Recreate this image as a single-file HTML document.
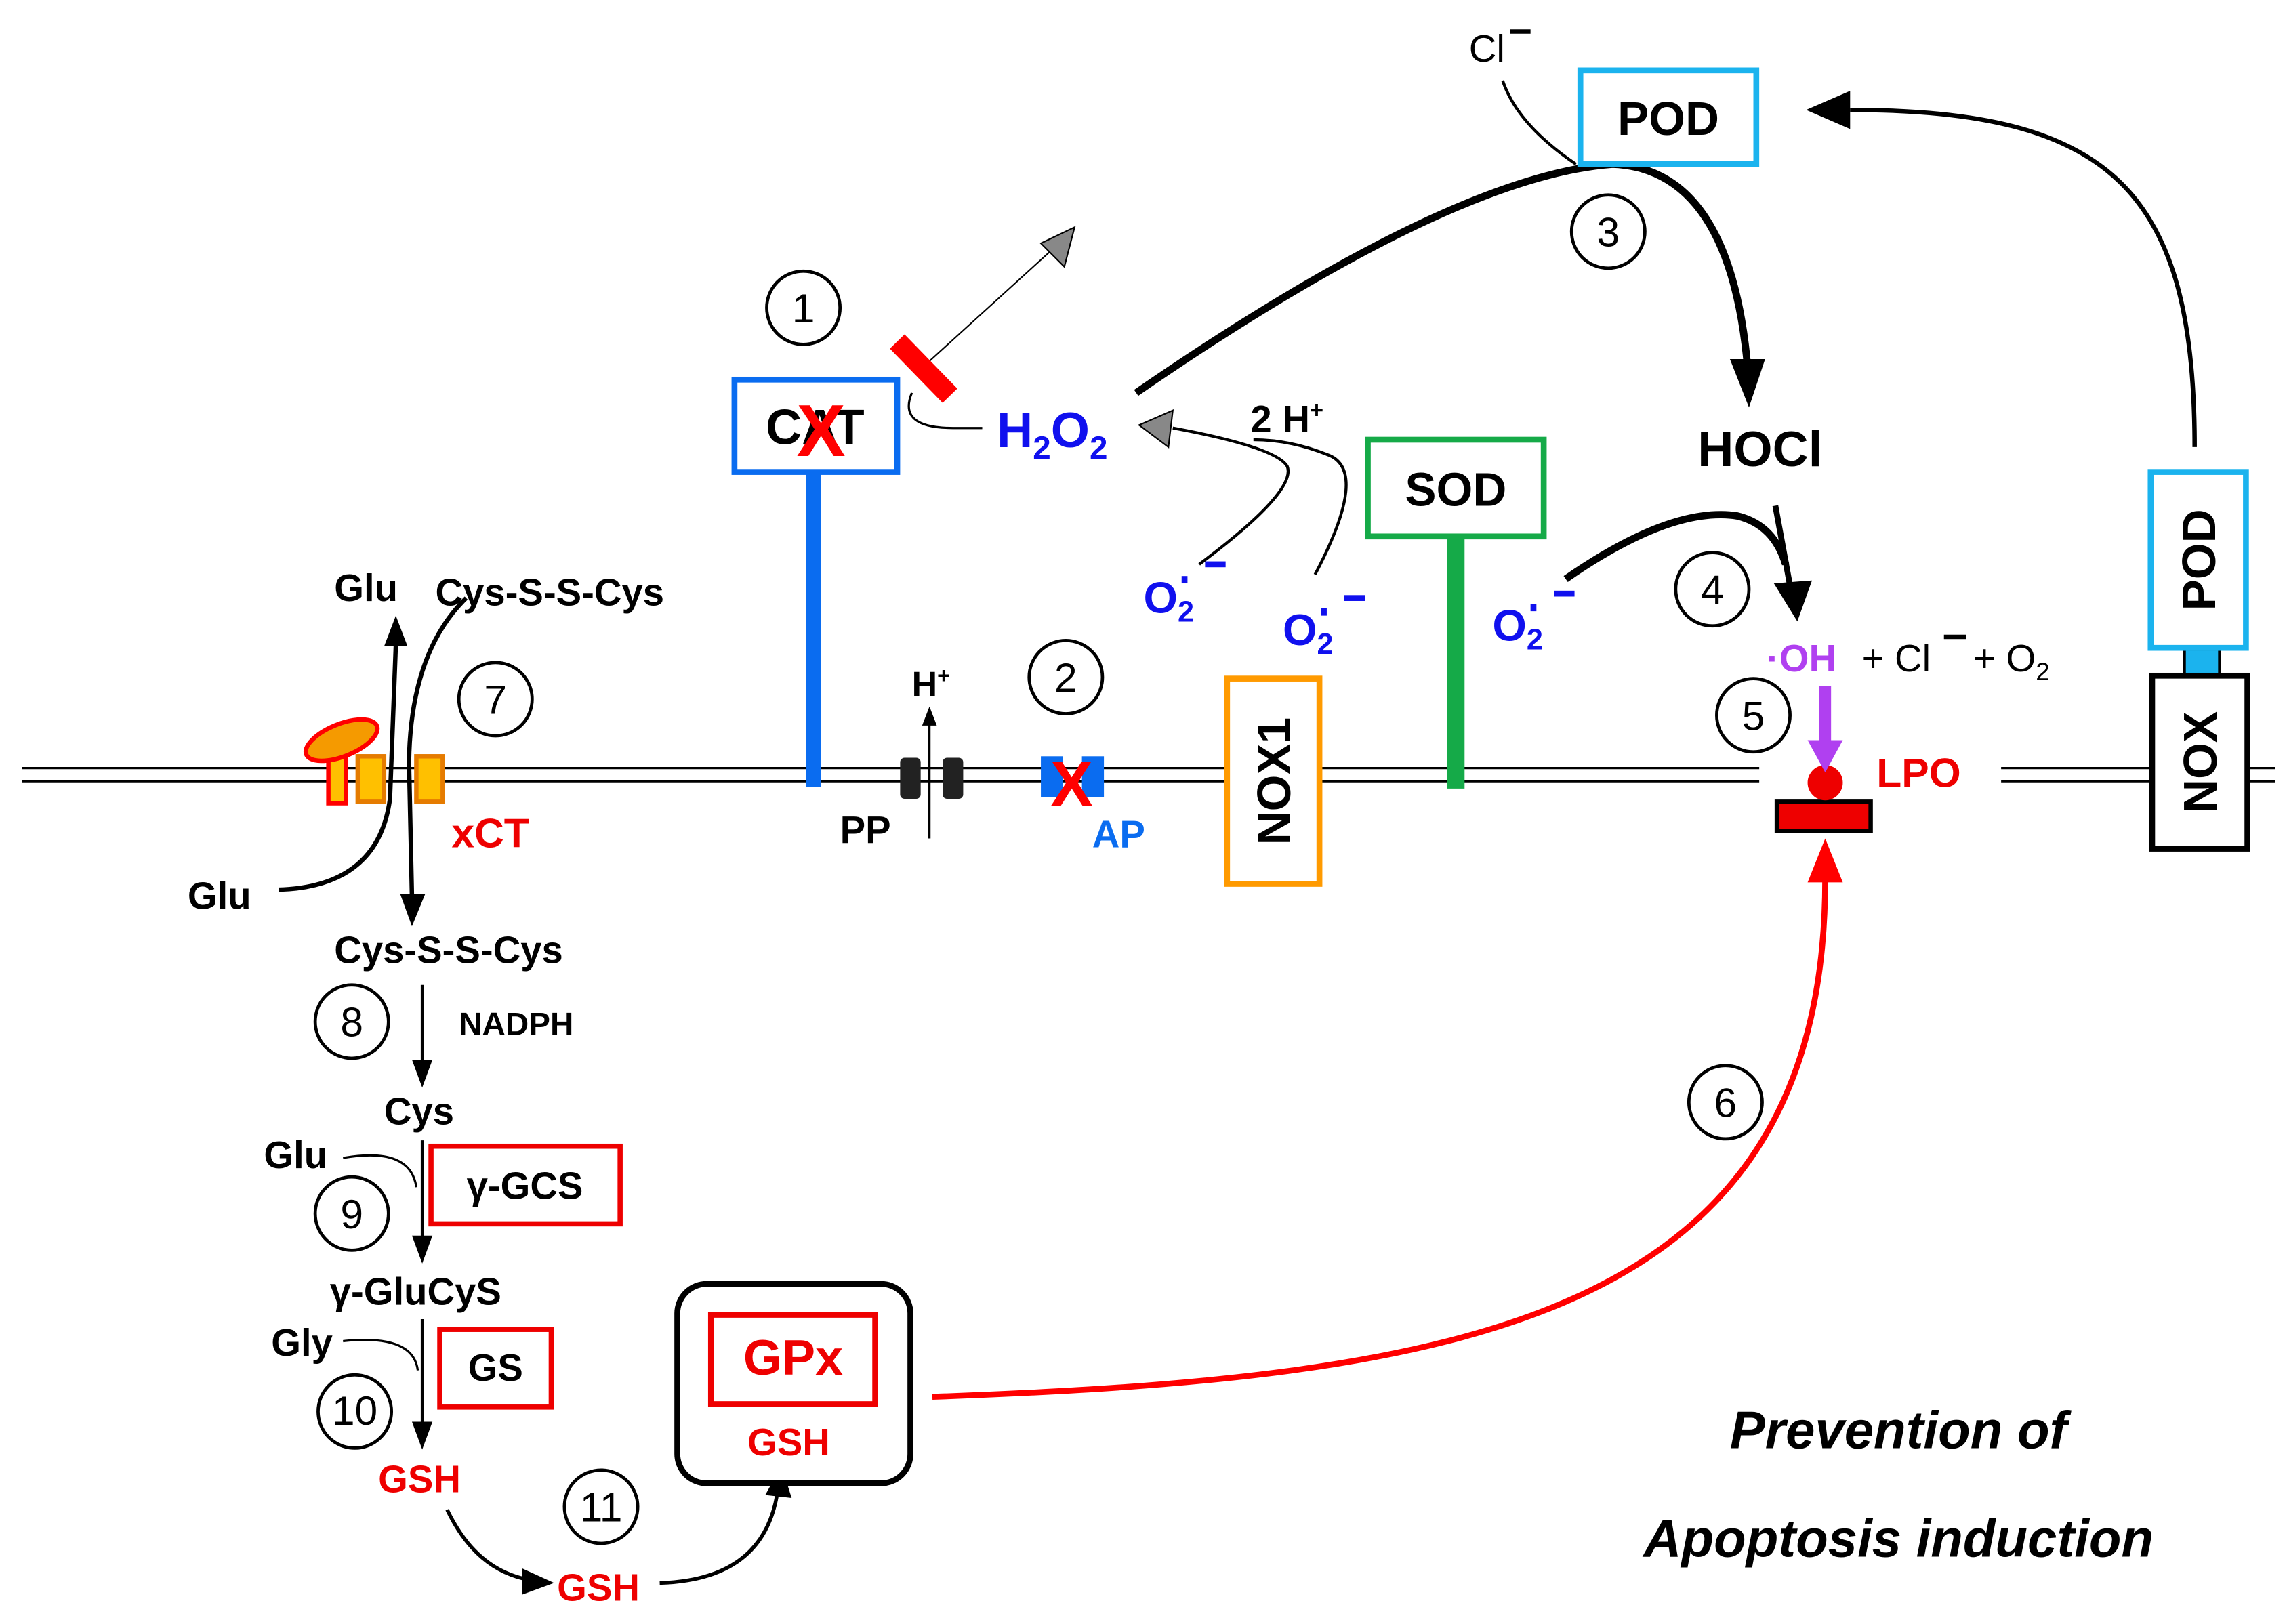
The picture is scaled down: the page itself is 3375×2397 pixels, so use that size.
<!DOCTYPE html>
<html><head><meta charset="utf-8"><style>
html,body{margin:0;padding:0;background:#fff;}
svg{display:block;}
text{font-family:"Liberation Sans",sans-serif;font-weight:bold;}
</style></head><body>
<svg width="3375" height="2397" viewBox="0 0 1560 1108" preserveAspectRatio="none" xmlns="http://www.w3.org/2000/svg">
<!-- membrane -->
<g stroke="#000" stroke-width="1.5">
<line x1="15" y1="524" x2="1200" y2="524"/><line x1="15" y1="533" x2="1200" y2="533"/>
<line x1="1365" y1="524" x2="1470" y2="524"/><line x1="1365" y1="533" x2="1470" y2="533"/>
<line x1="1534" y1="524" x2="1552" y2="524"/><line x1="1534" y1="533" x2="1552" y2="533"/>
</g>
<!-- circled numbers -->
<g fill="none" stroke="#000" stroke-width="2.2">
<circle cx="548" cy="210" r="25"/><circle cx="727" cy="462" r="25"/><circle cx="1097" cy="158" r="25"/>
<circle cx="1168" cy="402" r="25"/><circle cx="1196" cy="488" r="25"/><circle cx="1177" cy="752" r="25"/>
<circle cx="338" cy="477" r="25"/><circle cx="240" cy="697" r="25"/><circle cx="240" cy="828" r="25"/>
<circle cx="242" cy="963" r="25"/><circle cx="410" cy="1028" r="25"/>
</g>
<g font-size="28" text-anchor="middle">
<text x="548" y="220" style="font-weight:normal">1</text><text x="727" y="472" style="font-weight:normal">2</text>
<text x="1097" y="168" style="font-weight:normal">3</text><text x="1168" y="412" style="font-weight:normal">4</text>
<text x="1196" y="498" style="font-weight:normal">5</text><text x="1177" y="762" style="font-weight:normal">6</text>
<text x="338" y="487" style="font-weight:normal">7</text><text x="240" y="707" style="font-weight:normal">8</text>
<text x="240" y="838" style="font-weight:normal">9</text><text x="242" y="972" style="font-weight:normal">10</text>
<text x="410" y="1038" style="font-weight:normal">11</text>
</g>
<!-- CAT -->
<rect x="550" y="322" width="10" height="215" fill="#0a6cf0"/>
<rect x="501" y="259" width="111" height="63" fill="#fff" stroke="#0a6cf0" stroke-width="4"/>
<text x="556" y="303" font-size="34" text-anchor="middle">CAT</text>
<text x="560" y="311" font-size="50" text-anchor="middle" fill="#f00">X</text>
<line x1="630" y1="250" x2="718" y2="170" stroke="#000" stroke-width="1"/>
<path d="M733,155 L726,182 L710,166 z" fill="#888" stroke="#000" stroke-width="1"/>
<line x1="612" y1="233" x2="648" y2="270" stroke="#f00" stroke-width="14"/>
<path d="M622,268 Q612,292 650,292 L670,292" fill="none" stroke="#000" stroke-width="1.5"/>
<text x="680" y="305" font-size="34" fill="#1010ee">H<tspan font-size="22" dy="8">2</tspan><tspan dy="-8">O</tspan><tspan font-size="22" dy="8">2</tspan></text>
<!-- thick arc to HOCl -->
<path d="M775,268 Q990,120 1100,112 Q1180,115 1192,250" fill="none" stroke="#000" stroke-width="5"/>
<path d="M1180,245 L1204,245 L1193,278 z" fill="#000"/>
<text x="1002" y="42" font-size="26" style="font-weight:normal">Cl</text>
<rect x="1030" y="20" width="14" height="3" fill="#000"/>
<path d="M1025,55 Q1035,85 1075,112" fill="none" stroke="#000" stroke-width="2"/>
<rect x="1078" y="48" width="120" height="64" fill="#fff" stroke="#1bb3ee" stroke-width="4"/>
<text x="1138" y="92" font-size="32" text-anchor="middle">POD</text>
<!-- NOX -> POD arrow -->
<path d="M1497,305 C1497,130 1440,75 1262,75" fill="none" stroke="#000" stroke-width="3"/>
<path d="M1232,75 L1262,62 L1262,88 z" fill="#000"/>
<text x="1158" y="318" font-size="34">HOCl</text>
<line x1="1211" y1="345" x2="1222" y2="405" stroke="#000" stroke-width="4"/>
<path d="M1210,398 L1236,396 L1226,424 z" fill="#000"/>
<path d="M1068,395 Q1140,345 1185,352 Q1210,358 1218,385" fill="none" stroke="#000" stroke-width="5"/>
<!-- SOD -->
<rect x="987" y="366" width="12" height="172" fill="#15aa48"/>
<rect x="933" y="300" width="120" height="66" fill="#fff" stroke="#15aa48" stroke-width="4"/>
<text x="993" y="345" font-size="32" text-anchor="middle">SOD</text>
<text x="853" y="295" font-size="26">2 H<tspan font-size="16" dy="-10">+</tspan></text>
<path d="M818,385 Q885,335 878,318 Q870,305 800,292" fill="none" stroke="#000" stroke-width="2"/>
<path d="M897,392 Q935,320 905,310 Q880,300 855,300" fill="none" stroke="#000" stroke-width="2"/>
<path d="M777,290 L800,280 L797,305 z" fill="#888" stroke="#000" stroke-width="1"/>
<g fill="#1010ee">
<text x="780" y="418" font-size="30">O<tspan font-size="20" dy="6">2</tspan></text><rect x="806" y="393" width="4" height="5"/><rect x="822" y="383" width="14" height="4"/>
<text x="875" y="440" font-size="30">O<tspan font-size="20" dy="6">2</tspan></text><rect x="901" y="415" width="4" height="5"/><rect x="917" y="406" width="14" height="4"/>
<text x="1018" y="437" font-size="30">O<tspan font-size="20" dy="6">2</tspan></text><rect x="1044" y="412" width="4" height="5"/><rect x="1060" y="403" width="14" height="4"/>
</g>
<!-- NOX1 -->
<rect x="837" y="463" width="63" height="140" fill="#fff" stroke="#ff9a00" stroke-width="4"/>
<text transform="translate(880,533) rotate(-90)" font-size="32" text-anchor="middle">NOX1</text>
<!-- PP -->
<rect x="614" y="517" width="14" height="28" rx="3" fill="#222"/><rect x="643" y="517" width="14" height="28" rx="3" fill="#222"/>
<line x1="634" y1="572" x2="634" y2="492" stroke="#000" stroke-width="1.5"/>
<path d="M634,482 L629,495 L639,495 z" fill="#000"/>
<text x="622" y="475" font-size="24">H<tspan font-size="15" dy="-9">+</tspan></text>
<text x="573" y="575" font-size="26">PP</text>
<!-- AP -->
<rect x="710" y="516" width="15" height="28" fill="#0a6cf0"/><rect x="738" y="516" width="15" height="28" fill="#0a6cf0"/>
<text x="731" y="550" font-size="44" text-anchor="middle" fill="#f00">X</text>
<text x="745" y="578" font-size="26" fill="#0a6cf0">AP</text>
<!-- xCT -->
<rect x="224" y="514" width="12" height="34" fill="#ffc000" stroke="#f00" stroke-width="3"/>
<ellipse cx="233" cy="505" rx="26" ry="11" transform="rotate(-22 233 505)" fill="#f59a00" stroke="#f00" stroke-width="3"/>
<rect x="244" y="516" width="18" height="31" fill="#ffc000" stroke="#e57b00" stroke-width="3"/>
<rect x="284" y="516" width="18" height="31" fill="#ffc000" stroke="#e57b00" stroke-width="3"/>
<text x="308" y="578" font-size="28" fill="#e00">xCT</text>
<path d="M190,607 Q258,605 266,545 L270,440" fill="none" stroke="#000" stroke-width="3"/>
<path d="M270,420 L262,441 L278,441 z" fill="#000"/>
<path d="M318,408 Q280,445 279,520 L281,612" fill="none" stroke="#000" stroke-width="3"/>
<path d="M281,632 L273,610 L290,610 z" fill="#000"/>
<text x="228" y="410" font-size="26">Glu</text>
<text x="297" y="413" font-size="26">Cys-S-S-Cys</text>
<text x="128" y="620" font-size="26">Glu</text>
<text x="228" y="657" font-size="26">Cys-S-S-Cys</text>
<line x1="288" y1="672" x2="288" y2="725" stroke="#000" stroke-width="2"/>
<path d="M288,742 L281,723 L295,723 z" fill="#000"/>
<text x="313" y="706" font-size="22">NADPH</text>
<text x="262" y="767" font-size="26">Cys</text>
<text x="180" y="797" font-size="26">Glu</text>
<path d="M234,790 Q280,782 284,810" fill="none" stroke="#000" stroke-width="1.5"/>
<line x1="288" y1="778" x2="288" y2="845" stroke="#000" stroke-width="2"/>
<path d="M288,862 L281,843 L295,843 z" fill="#000"/>
<rect x="294" y="782" width="129" height="53" fill="#fff" stroke="#e00" stroke-width="3.5"/>
<text x="358" y="818" font-size="26" text-anchor="middle">γ-GCS</text>
<text x="225" y="890" font-size="26">γ-GluCyS</text>
<text x="185" y="925" font-size="26">Gly</text>
<path d="M234,915 Q282,910 285,935" fill="none" stroke="#000" stroke-width="1.5"/>
<line x1="288" y1="900" x2="288" y2="972" stroke="#000" stroke-width="2"/>
<path d="M288,989 L281,970 L295,970 z" fill="#000"/>
<rect x="300" y="907" width="76" height="53" fill="#fff" stroke="#e00" stroke-width="3.5"/>
<text x="338" y="942" font-size="26" text-anchor="middle">GS</text>
<text x="258" y="1018" font-size="26" fill="#e00">GSH</text>
<path d="M305,1030 Q325,1072 362,1078" fill="none" stroke="#000" stroke-width="2.5"/>
<path d="M378,1080 L356,1070 L356,1088 z" fill="#000"/>
<text x="380" y="1092" font-size="26" fill="#e00">GSH</text>
<path d="M450,1080 Q520,1078 530,1020" fill="none" stroke="#000" stroke-width="2.5"/>
<path d="M533,1000 L522,1020 L540,1022 z" fill="#000"/>
<!-- GPx -->
<rect x="462" y="876" width="159" height="136" rx="20" fill="#fff" stroke="#000" stroke-width="4"/>
<rect x="485" y="897" width="112" height="61" fill="#fff" stroke="#e00" stroke-width="4"/>
<text x="541" y="938" font-size="34" text-anchor="middle" fill="#e00">GPx</text>
<text x="538" y="993" font-size="26" text-anchor="middle" fill="#e00">GSH</text>
<!-- red curve -->
<path d="M636,953 C1000,940 1245,900 1245,600" fill="none" stroke="#f00" stroke-width="4"/>
<path d="M1245,572 L1233,602 L1257,602 z" fill="#f00"/>
<!-- LPO -->
<rect x="1212" y="547" width="64" height="20" fill="#e00" stroke="#000" stroke-width="3"/>
<circle cx="1245" cy="534" r="12" fill="#e00"/>
<text x="1280" y="537" font-size="28" fill="#e00">LPO</text>
<line x1="1245" y1="468" x2="1245" y2="508" stroke="#b040f0" stroke-width="8"/>
<path d="M1245,527 L1233,505 L1257,505 z" fill="#b040f0"/>
<text x="1205" y="458" font-size="26" fill="#b040f0">·OH</text>
<text x="1270" y="458" font-size="26" style="font-weight:normal">+ Cl</text>
<rect x="1326" y="433" width="15" height="3" fill="#000"/>
<text x="1346" y="458" font-size="26" style="font-weight:normal">+ O<tspan font-size="17" dy="6">2</tspan></text>
<!-- NOX / POD right -->
<rect x="1490" y="443" width="24" height="18" fill="#1bb3ee" stroke="#000" stroke-width="2"/>
<rect x="1468" y="461" width="65" height="118" fill="#fff" stroke="#000" stroke-width="4"/>
<text transform="translate(1512,520) rotate(-90)" font-size="32" text-anchor="middle">NOX</text>
<rect x="1467" y="322" width="65" height="120" fill="#fff" stroke="#1bb3ee" stroke-width="4"/>
<text transform="translate(1511,382) rotate(-90)" font-size="32" text-anchor="middle">POD</text>
<!-- caption -->
<text x="1295" y="988" font-size="36" font-style="italic" text-anchor="middle">Prevention of</text>
<text x="1295" y="1062" font-size="36" font-style="italic" text-anchor="middle">Apoptosis induction</text>
</svg>
</body></html>
